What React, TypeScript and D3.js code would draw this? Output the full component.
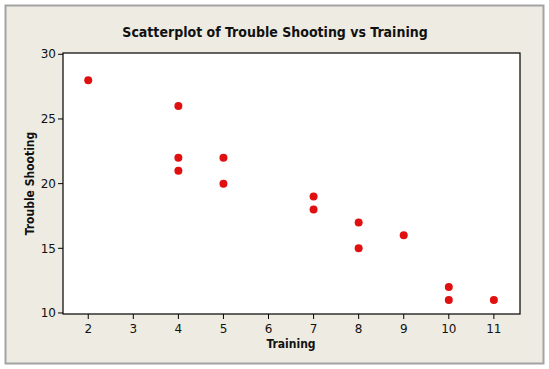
import React from 'react';
import * as d3 from 'd3';

// values
const training = [2, 4, 4, 4, 5, 5, 7, 7, 8, 8, 9, 10, 10, 11];
const troubleShooting = [28, 26, 22, 21, 22, 20, 19, 18, 17, 15, 16, 12, 11, 11];
const xTicks = [2, 3, 4, 5, 6, 7, 8, 9, 10, 11];
const yTicks = [10, 15, 20, 25, 30];

const W = 549;
const H = 369;
const plot = { left: 63, right: 520, top: 53, bottom: 314 };
const font = 'Tahoma, "DejaVu Sans Condensed", "DejaVu Sans", sans-serif';
const tickFont = 'Tahoma, "DejaVu Sans", sans-serif';

const App: React.FC = () => {
  const x = d3.scaleLinear().domain([1.44, 11.58]).range([plot.left, plot.right]);
  const y = d3.scaleLinear().domain([9.92, 30.1]).range([plot.bottom, plot.top]);

  return (
    <svg width={W} height={H} style={{ position: 'absolute', left: 0, top: 0 }}>
      <rect x={0} y={0} width={W} height={H} fill="#ffffff" />
      <rect x={5.5} y={5.5} width={538} height={358} fill="#eeebe2" stroke="#a3a3a3" strokeWidth={2} />
      <text x={275} y={37} textAnchor="middle" fontFamily={font} fontWeight="bold" fontSize={14} fill="#111">
        Scatterplot of Trouble Shooting vs Training
      </text>
      <rect
        x={plot.left}
        y={plot.top}
        width={plot.right - plot.left}
        height={plot.bottom - plot.top}
        fill="#ffffff"
        stroke="#000"
        strokeWidth={1.2}
      />
      {xTicks.map((t) => (
        <g key={'x' + t} transform={`translate(${x(t)},${plot.bottom})`}>
          <line y1={0} y2={5} stroke="#000" />
          <text y={19} textAnchor="middle" fontFamily={tickFont} fontSize={12} fill="#111">
            {t}
          </text>
        </g>
      ))}
      {yTicks.map((t) => (
        <g key={'y' + t} transform={`translate(${plot.left},${y(t)})`}>
          <line x1={0} x2={-5} stroke="#000" />
          <text x={-7} dy="0.35em" textAnchor="end" fontFamily={tickFont} fontSize={12} fill="#111">
            {t}
          </text>
        </g>
      ))}
      <text x={291} y={348} textAnchor="middle" fontFamily={font} fontWeight="bold" fontSize={12} fill="#111">
        Training
      </text>
      <text
        transform={`translate(34,${(plot.top + plot.bottom) / 2}) rotate(-90)`}
        textAnchor="middle"
        fontFamily={font}
        fontWeight="bold"
        fontSize={12}
        fill="#111"
      >
        Trouble Shooting
      </text>
      {training.map((d, i) => (
        <circle key={i} cx={x(d)} cy={y(troubleShooting[i])} r={4} fill="#e01010" />
      ))}
    </svg>
  );
};

export default App;
